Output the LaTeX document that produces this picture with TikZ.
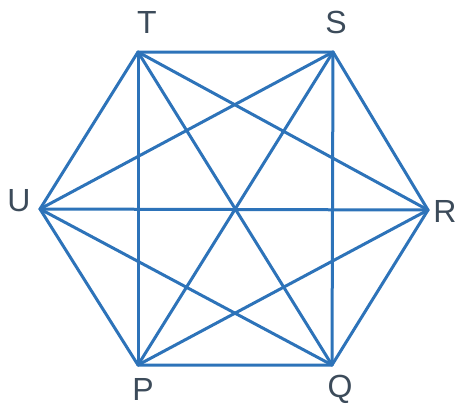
\documentclass[tikz,border=0pt]{standalone}
\usepackage{fontspec}
\setmainfont{Liberation Sans}
\definecolor{edgeblue}{RGB}{45,115,185}
\definecolor{lblgray}{RGB}{60,75,90}
\begin{document}
\begin{tikzpicture}[x=1pt,y=-1pt,
  edge/.style={draw=edgeblue,line width=3pt,line cap=round,line join=round},
  lbl/.style={text=lblgray,font=\fontsize{32}{32}\selectfont,inner sep=0pt}]
\useasboundingbox (0,0) rectangle (460,408);
\coordinate (T) at (138,52);
\coordinate (S) at (333,52);
\coordinate (R) at (428,210);
\coordinate (Q) at (332,365);
\coordinate (P) at (138,365);
\coordinate (U) at (40,209);
\draw[edge] (T) -- (S) -- (R) -- (Q) -- (P) -- (U) -- cycle;
\foreach \a/\b in {T/R,T/Q,T/P,S/Q,S/P,S/U,R/P,R/U,Q/U}
  \draw[edge] (\a) -- (\b);
\node[lbl] (lT) at (147,22) {T};
\node[lbl] (lS) at (336,22) {S};
\node[lbl] (lR) at (445,211) {R};
\node[lbl] (lQ) at (340,389) {Q};
\node[lbl] (lP) at (143,389) {P};
\node[lbl] (lU) at (19,201) {U};
\end{tikzpicture}
\end{document}
